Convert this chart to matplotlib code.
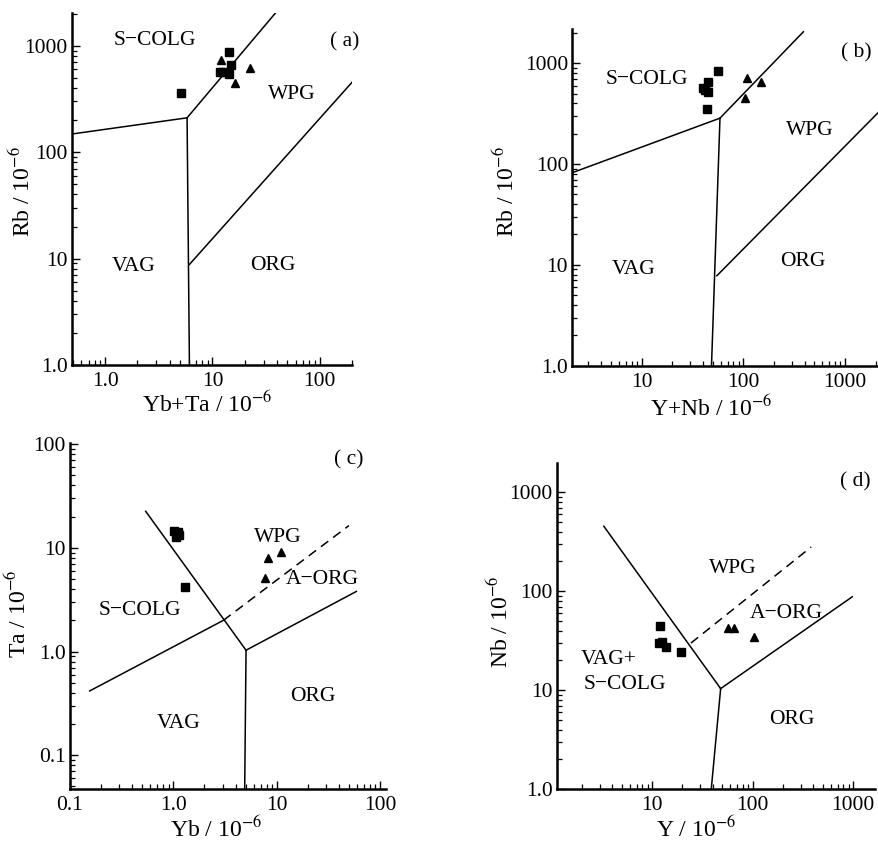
import numpy as np
import matplotlib
matplotlib.use("Agg")
import matplotlib.pyplot as plt
from matplotlib.ticker import LogLocator, NullFormatter

plt.rcParams['font.family'] = ['Liberation Serif', 'DejaVu Serif']
plt.rcParams['mathtext.fontset'] = 'stix'

# ---- panel (a): Rb vs Yb+Ta ----
a_sq_x = [14.2, 15.0, 11.8, 14.4, 12.6, 5.1]
a_sq_y = [873, 652, 565, 544, 560, 358]
a_tri_x = [12.1, 22.2, 16.4]
a_tri_y = [727, 620, 445]
a_bounds = [
    ([0.49, 5.8], [148, 210], '-'),
    ([5.8, 43], [210, 2300], '-'),
    ([5.8, 6.1], [210, 1.0], '-'),
    ([6.1, 203], [8.8, 460], '-'),
]

# ---- panel (b): Rb vs Y+Nb ----
b_sq_x = [56.6, 44.6, 40.4, 44.6, 42.5, 43.5]
b_sq_y = [839, 657, 565, 523, 545, 350]
b_tri_x = [108, 148, 104]
b_tri_y = [710, 648, 456]
b_bounds = [
    ([2.08, 59], [82, 285], '-'),
    ([59, 390], [285, 2050], '-'),
    ([59, 48.7], [285, 1.0], '-'),
    ([55, 2200], [7.8, 336], '-'),
]

# ---- panel (c): Ta vs Yb ----
c_sq_x = [1.02, 1.12, 1.06, 1.14, 1.08, 1.29]
c_sq_y = [14.5, 14.3, 12.8, 13.2, 13.8, 4.2]
c_tri_x = [8.2, 11.1, 7.65]
c_tri_y = [8.05, 9.1, 5.16]
c_bounds = [
    ([0.54, 5.05], [22.5, 1.03], '-'),
    ([0.155, 3.05], [0.417, 2.0], '-'),
    ([3.05, 50], [2.0, 16.4], '--'),
    ([5.05, 59], [1.03, 3.8], '-'),
    ([5.05, 4.9], [1.03, 0.047], '-'),
]

# ---- panel (d): Nb vs Y ----
d_sq_x = [11.9, 11.6, 12.4, 13.6, 19.4]
d_sq_y = [44.7, 30.3, 30.8, 27.4, 24.4]
d_tri_x = [57, 65, 104]
d_tri_y = [43, 43, 34.8]
d_bounds = [
    ([3.3, 48], [454, 10.4], '-'),
    ([48, 38.7], [10.4, 1.0], '-'),
    ([48, 980], [10.4, 88], '-'),
    ([24.3, 382], [30, 280], '--'),
]

panels = [
    dict(rect=[0.0819, 0.566, 0.3185, 0.4186], xlim=(0.49, 200), ylim=(1, 2030),
         xt=[1, 10, 100], xtl=['1.0', '10', '100'],
         yt=[1, 10, 100, 1000], ytl=['1.0', '10', '100', '1000'],
         xlabel='Yb+Ta / 10$^{-6}$', ylabel='Rb / 10$^{-6}$',
         xlab_at=(0.482, -0.076), ylab_at=(-0.179, 0.494),
         sq=(a_sq_x, a_sq_y), tri=(a_tri_x, a_tri_y), bounds=a_bounds,
         labels=[('S\u2212COLG', 0.296, 0.921), ('( a)', 0.975, 0.917),
                 ('WPG', 0.785, 0.767), ('VAG', 0.219, 0.279), ('ORG', 0.717, 0.284)]),
    dict(rect=[0.651, 0.5652, 0.349, 0.400], xlim=(2.08, 2160), ylim=(1, 2170),
         xt=[10, 100, 1000], xtl=['10', '100', '1000'],
         yt=[1, 10, 100, 1000], ytl=['1.0', '10', '100', '1000'],
         xlabel='Y+Nb / 10$^{-6}$', ylabel='Rb / 10$^{-6}$',
         xlab_at=(0.452, -0.090), ylab_at=(-0.214, 0.519),
         sq=(b_sq_x, b_sq_y), tri=(b_tri_x, b_tri_y), bounds=b_bounds,
         labels=[('S\u2212COLG', 0.243, 0.852), ('( b)', 0.927, 0.929),
                 ('WPG', 0.775, 0.698), ('VAG', 0.199, 0.287), ('ORG', 0.753, 0.309)]),
    dict(rect=[0.0796, 0.0615, 0.3595, 0.412], xlim=(0.1, 114), ylim=(0.047, 103),
         xt=[0.1, 1, 10, 100], xtl=['0.1', '1.0', '10', '100'],
         yt=[0.1, 1, 10, 100], ytl=['0.1', '1.0', '10', '100'],
         xlabel='Yb / 10$^{-6}$', ylabel='Ta / 10$^{-6}$',
         xlab_at=(0.464, -0.080), ylab_at=(-0.164, 0.506),
         sq=(c_sq_x, c_sq_y), tri=(c_tri_x, c_tri_y), bounds=c_bounds,
         labels=[('( c)', 0.881, 0.950), ('WPG', 0.659, 0.726), ('A\u2212ORG', 0.80, 0.604),
                 ('S\u2212COLG', 0.222, 0.517), ('ORG', 0.77, 0.269), ('VAG', 0.343, 0.19)]),
    dict(rect=[0.6333, 0.0615, 0.362, 0.3876], xlim=(1.12, 1645), ylim=(1, 1963),
         xt=[10, 100, 1000], xtl=['10', '100', '1000'],
         yt=[1, 10, 100, 1000], ytl=['1.0', '10', '100', '1000'],
         xlabel='Y / 10$^{-6}$', ylabel='Nb / 10$^{-6}$',
         xlab_at=(0.44, -0.085), ylab_at=(-0.178, 0.512),
         sq=(d_sq_x, d_sq_y), tri=(d_tri_x, d_tri_y), bounds=d_bounds,
         labels=[('( d)', 0.937, 0.944), ('WPG', 0.555, 0.678), ('A\u2212ORG', 0.723, 0.54),
                 ('VAG+', 0.162, 0.397), ('S\u2212COLG', 0.215, 0.32), ('ORG', 0.74, 0.215)]),
]

fig = plt.figure(figsize=(8.79, 8.41), dpi=100)

for p in panels:
    ax = fig.add_axes(p['rect'])
    ax.set_xscale('log')
    ax.set_yscale('log')
    for xs, ys, ls in p['bounds']:
        ax.plot(xs, ys, color='black', lw=1.1, ls=ls, dashes=(6, 4) if ls == '--' else (None, None),
                clip_on=True)
    ax.plot(*p['sq'], ls='none', marker='s', ms=5.4, color='black')
    ax.plot(*p['tri'], ls='none', marker='^', ms=6.4, color='black')
    ax.set_xlim(*p['xlim'])
    ax.set_ylim(*p['ylim'])
    ax.set_xticks(p['xt'])
    ax.set_xticklabels(p['xtl'])
    ax.set_yticks(p['yt'])
    ax.set_yticklabels(p['ytl'])
    ax.xaxis.set_minor_locator(LogLocator(base=10, subs=np.arange(2, 10), numticks=20))
    ax.yaxis.set_minor_locator(LogLocator(base=10, subs=np.arange(2, 10), numticks=20))
    ax.xaxis.set_minor_formatter(NullFormatter())
    ax.yaxis.set_minor_formatter(NullFormatter())
    ax.tick_params(which='major', direction='in', length=6, width=1.0, labelsize=15.5, pad=3)
    ax.tick_params(which='minor', direction='in', length=3.5, width=0.9)
    ax.tick_params(axis='x', which='major', pad=5)
    for s in ['top', 'right']:
        ax.spines[s].set_visible(False)
    for s in ['left', 'bottom']:
        ax.spines[s].set_linewidth(1.8)
    ax.set_xlabel(p['xlabel'], fontsize=17)
    ax.set_ylabel(p['ylabel'], fontsize=17, va='center')
    ax.xaxis.set_label_coords(*p['xlab_at'])
    ax.yaxis.set_label_coords(*p['ylab_at'])
    for txt, fx, fy in p['labels']:
        ax.text(fx, fy, txt, transform=ax.transAxes, fontsize=15.5, ha='center', va='center')

fig.savefig('out.png', dpi=100)
